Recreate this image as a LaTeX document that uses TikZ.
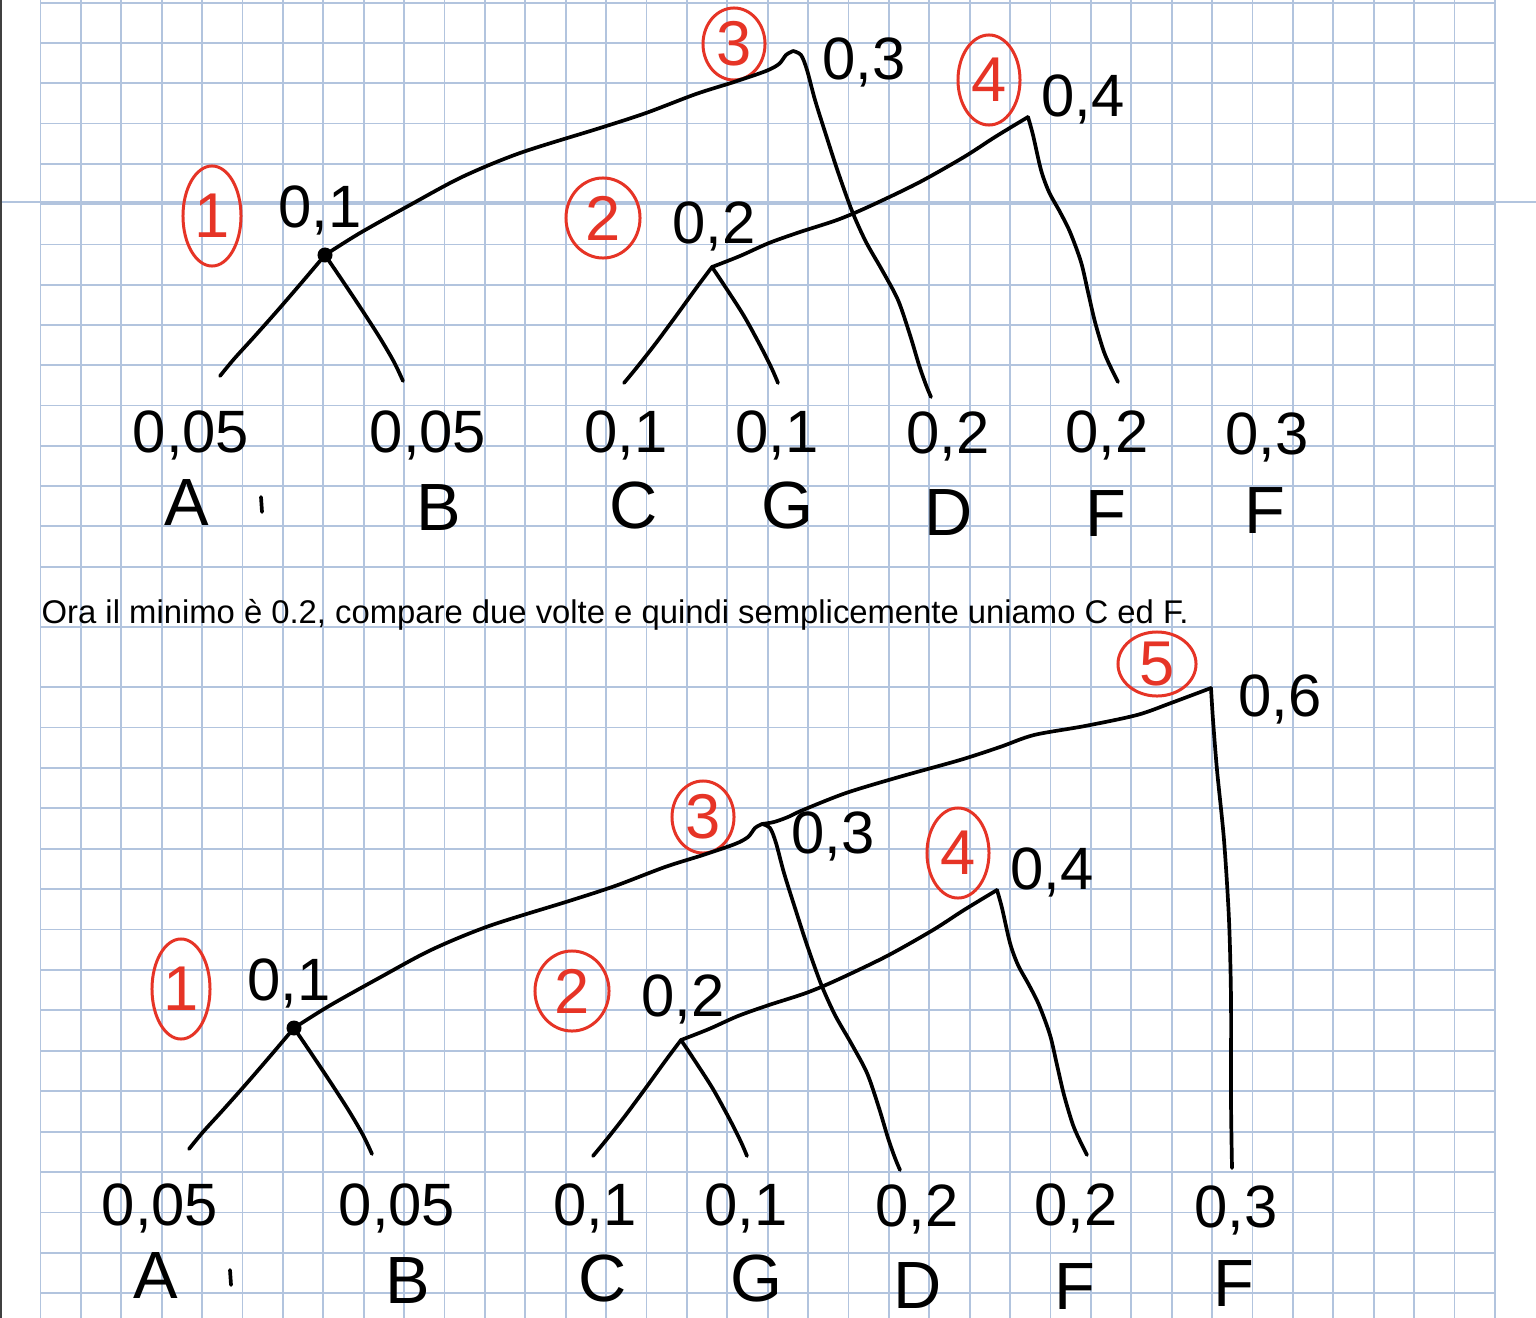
\documentclass[tikz,border=0pt]{standalone}
\usepackage{fontspec}
\setmainfont{Liberation Sans}
\usepackage{tikz}
\usetikzlibrary{shapes.geometric}

\definecolor{inkred}{RGB}{230,52,38}
\definecolor{paperline}{RGB}{178,196,222}

% one Huffman tree (nodes 1 to 4), drawn twice
\newcommand{\huffmantree}{%
% Leaves: weights and symbols
\node[val] (valA)  at (191,452)  {0,05};
\node[val] (valB)  at (428,452)  {0,05};
\node[val] (valC)  at (626,452)  {0,1};
\node[val] (valG)  at (777,452)  {0,1};
\node[val] (valD)  at (948,453)  {0,2};
\node[val] (valF)  at (1107,452) {0,2};
\node[val] (valFF) at (1267,454) {0,3};
\node[sym] (symA)  at (187,525)  {A};
\node[sym] (symB)  at (439,530)  {B};
\node[sym] (symC)  at (634,528)  {C};
\node[sym] (symG)  at (787,528)  {G};
\node[sym] (symD)  at (949,535)  {D};
\node[sym] (symF)  at (1106,536) {F};
\node[sym] (symFF) at (1265,533) {F};
\draw[wire] (261,497) -- (262,512);
% Inner nodes and line ends
\coordinate (n1) at (325,255);
\coordinate (n2) at (712,267);
\coordinate (n3) at (793,51);
\coordinate (n4) at (1028,117);
\coordinate (eA) at (220,376);
\coordinate (eB) at (403,381);
\coordinate (eC) at (624,383);
\coordinate (eG) at (778,383);
\coordinate (eD) at (931,397);
\coordinate (eF) at (1118,382);
% Weights of inner nodes
\node[val] (w1) at (320,227)  {0,1};
\node[val] (w2) at (714,243)  {0,2};
\node[val] (w3) at (864,80)   {0,3};
\node[val] (w4) at (1083,116) {0,4};
% Step numbers
\node[tag, minimum width=0.58cm, minimum height=1.00cm] (t1) at (212,216) {1};
\node[tag, minimum width=0.74cm, minimum height=0.80cm] (t2) at (603,218) {2};
\node[tag, minimum width=0.62cm, minimum height=0.72cm] (t3) at (734,44)  {3};
\node[tag, minimum width=0.62cm, minimum height=0.90cm] (t4) at (989,80)  {4};
% 1. A + B
\fill (n1) circle[radius=0.075cm];
\draw[wire] plot[smooth] coordinates {(n1) (303,281) (278,310) (254,337) (234,359) (eA)};
\draw[wire] plot[smooth] coordinates {(n1) (342,280) (362,310) (380,338) (394,362) (eB)};
% 2. C + G
\draw[wire] plot[smooth] coordinates {(n2) (697,287) (676,316) (656,343) (638,366) (eC)};
\draw[wire] plot[smooth] coordinates {(n2) (726,288) (744,316) (761,347) (772,369) (eG)};
% 3. (A B) + D
\draw[wire] plot[smooth] coordinates {(n1) (360,233) (410,205) (462,177) (520,153) (600,128) (646,113) (696,94) (734,82) (766,71) (779,64) (786,55) (n3)};
\draw[wire] plot[smooth] coordinates {(n3) (801,55) (807,70) (815,100) (826,135) (838,172) (852,211) (866,242) (882,270) (898,300) (910,335) (919,365) (926,385) (eD)};
% 4. (C G) + F
\draw[wire] plot[smooth] coordinates {(n2) (740,256) (769,243) (800,232) (837,220) (868,207) (918,183) (964,157) (995,137) (n4)};
\draw[wire] plot[smooth] coordinates {(n4) (1033,135) (1041,170) (1049,192) (1060,212) (1070,232) (1081,262) (1088,292) (1095,322) (1104,352) (1112,370) (eF)};
}

\begin{document}
\begin{tikzpicture}[
  x=0.01cm, y=-0.01cm,
  wire/.style={line width=1.05pt, line cap=round, line join=round},
  val/.style={anchor=base, inner sep=0pt, font=\fontsize{17}{17}\selectfont},
  sym/.style={anchor=base, inner sep=0pt, text depth=0pt, font=\fontsize{19}{19}\selectfont},
  tag/.style={ellipse, draw=inkred, text=inkred, line width=0.85pt, inner sep=0pt, font=\fontsize{18}{18}\selectfont},
  paper/.style={draw=paperline, line width=0.5pt},
]
\useasboundingbox (0,0) rectangle (1536,1318);
\fill[white] (0,0) rectangle (1536,1318);

% Squared paper
\foreach \k in {0,...,36}
  \draw[paper] ({40.5+40.4*\k},0) -- ({40.5+40.4*\k},1318);
\foreach \k in {0,...,14}
  \draw[paper] (40.5,{2.7+40.28*\k}) -- (1495,{2.7+40.28*\k});
\draw[paper] (40.5,627) -- (1495,627);
\foreach \k in {0,...,15}
  \draw[paper] (40.5,{687+40.42*\k}) -- (1495,{687+40.42*\k});
\draw[paper] (0,202) -- (1536,202);
\draw[black!75, line width=0.5pt] (1,0) -- (1,1318);

% First tree
\huffmantree

% Comment
\node[anchor=base west, inner sep=0pt, font=\fontsize{9.33}{11}\selectfont] (note) at (41,623)
  {Ora il minimo è 0.2, compare due volte e quindi semplicemente uniamo C ed F.};

% Second tree
\begin{scope}[shift={(-31,773)}, name prefix=low-]
\huffmantree
\end{scope}

% 5. ((A B) D) + F
\coordinate (n5) at (1211,688);
\coordinate (eF3) at (1232,1168);
\node[val] (w5) at (1280,716) {0,6};
\node[tag, minimum width=0.78cm, minimum height=0.64cm] (t5) at (1157,664) {5};
\draw[wire] plot[smooth] coordinates {(low-n3) (774,822) (788,817) (803,810) (846,793) (899,777) (960,760) (1000,747) (1034,735) (1085,726) (1137,715) (1171,703) (n5)};
\draw[wire] plot[smooth] coordinates {(n5) (1213,720) (1217,770) (1224,840) (1229,920) (1231,1000) (1231,1100) (eF3)};

\end{tikzpicture}
\end{document}
